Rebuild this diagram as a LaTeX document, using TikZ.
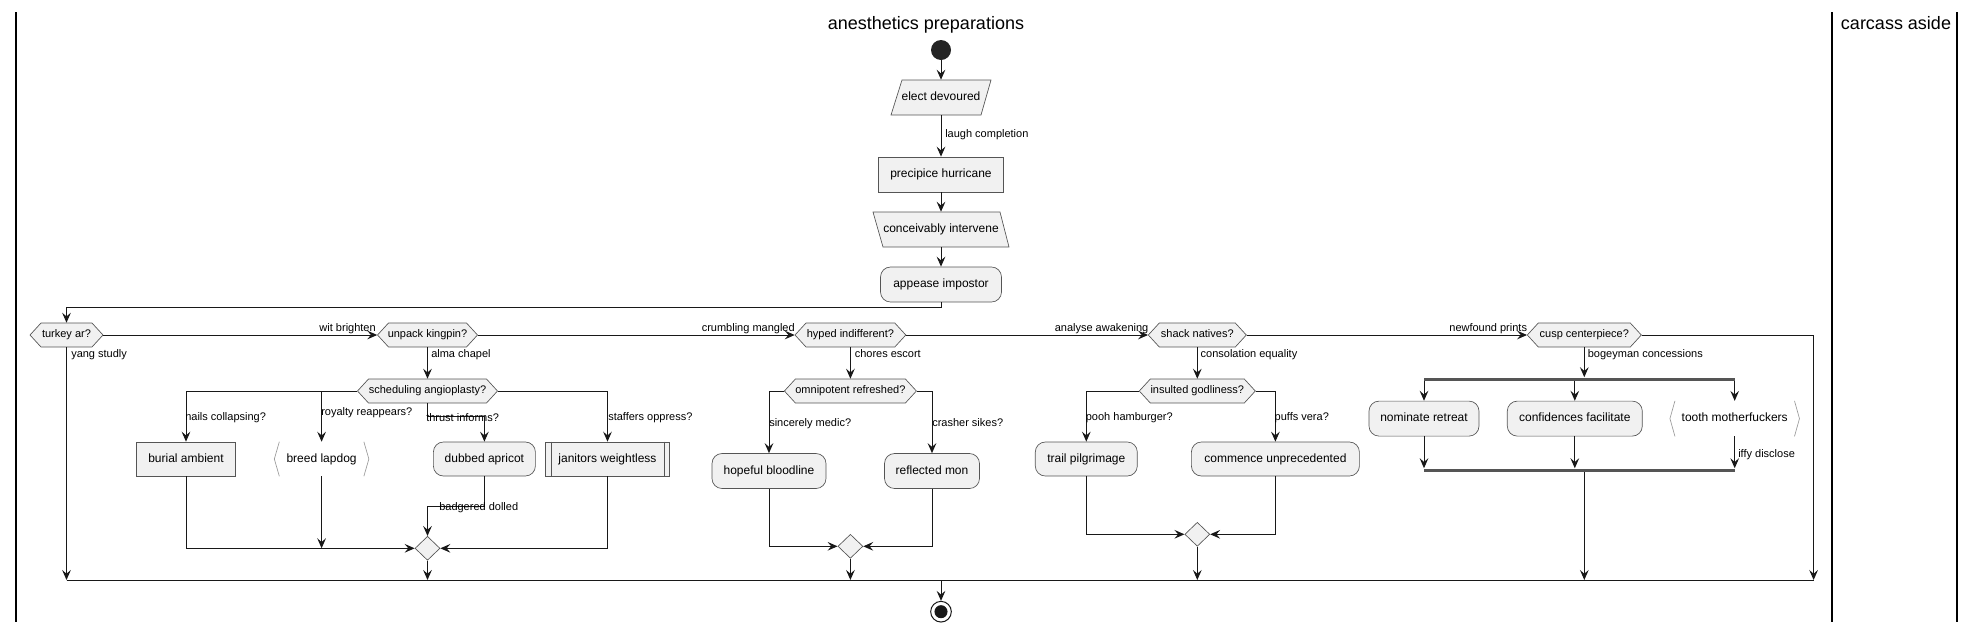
\documentclass[tikz,border=0pt]{standalone}
\usepackage{fontspec}
\setmainfont{Liberation Sans}
\usetikzlibrary{arrows.meta,shapes.geometric,calc}
\definecolor{nodefill}{HTML}{F1F1F1}
\definecolor{bord}{HTML}{555555}
\definecolor{lin}{HTML}{181818}
\definecolor{brk}{HTML}{9A9A9A}
\tikzset{
  bw/.style={minimum width={0.75pt*#1}},
  bh/.style={minimum height={0.75pt*#1}},
  box/.style={draw=bord, fill=nodefill, line width=0.5pt, inner sep=0pt,
    font=\fontsize{9}{10}\selectfont, text height=6.6pt, text depth=1.9pt},
  rbox/.style={box, rounded corners=7.5pt},
  plainb/.style={draw=none, fill=none, inner sep=0pt,
    font=\fontsize{9}{10}\selectfont, text height=6.6pt, text depth=1.9pt},
  shp/.style={draw=bord, fill=nodefill, line width=0.5pt},
  brack/.style={draw=brk, line width=0.5pt},
  hextext/.style={draw=none, fill=none, inner sep=0pt, minimum height=18pt,
    font=\fontsize{8.25}{9}\selectfont, text height=6pt, text depth=1.7pt},
  lbl/.style={font=\fontsize{8.25}{9}\selectfont, inner sep=0pt, anchor=base west},
  lblr/.style={lbl, anchor=base east},
  titl/.style={font=\fontsize{13.5}{15}\selectfont, inner sep=0pt, anchor=base},
  seg/.style={draw=lin, line width=0.75pt},
  flow/.style={seg, -{Stealth[length=7.5pt,width=6.5pt,inset=2.8pt]}},
  merge/.style={diamond, draw=bord, fill=nodefill, line width=0.5pt,
    minimum width=18.75pt, minimum height=18pt, inner sep=0pt},
  bar/.style={draw=none, fill=bord, inner sep=0pt, minimum height=2.25pt},
  lane/.style={draw=black, line width=1.5pt},
  startc/.style={circle, fill=lin!95!white, draw=none, minimum size=15pt, inner sep=0pt},
  endc/.style={circle, draw=lin, line width=0.75pt, fill=white, minimum size=15.5pt, inner sep=0pt}
}
% name, cx, cy, halfwidth (px), text
\newcommand\hexnode[5]{%
  \path[shp] (#2-#4,#3) -- (#2-#4+11,#3-12) -- (#2+#4-11,#3-12) -- (#2+#4,#3)
    -- (#2+#4-11,#3+12) -- (#2-#4+11,#3+12) -- cycle;
  \node[hextext, minimum width={1.5pt*#4}] (#1) at (#2,#3) {#5};}
\begin{document}
\begin{tikzpicture}[x=0.75pt,y=-0.75pt]
\useasboundingbox (0,0) rectangle (1975,633);

% lanes and titles
\draw[lane] (16,12) -- (16,622);
\draw[lane] (1832,12) -- (1832,622);
\draw[lane] (1957,12) -- (1957,622);
\node[titl] (t1) at (926,29.5) {anesthetics preparations};
\node[titl] (t2) at (1896,29.5) {carcass aside};

% main column
\node[startc] (st) at (941,50) {};
\path[shp] (902,80) -- (991,80) -- (981,115) -- (891,115) -- cycle;
\node[plainb, bw=90, bh=35] (ed) at (941,97.5) {elect devoured};
\node[box, bw=125, bh=35] (ph) at (941,174.5) {precipice hurricane};
\path[shp] (873,212) -- (1000,212) -- (1009,247) -- (883,247) -- cycle;
\node[plainb, bw=127, bh=35] (ci) at (941,229.5) {conceivably intervene};
\node[rbox, bw=121, bh=35] (ai) at (941,284.5) {appease impostor};

% decisions
\hexnode{tk}{66.5}{335}{36.5}{turkey ar?}
\hexnode{uk}{427.5}{335}{50}{unpack kingpin?}
\hexnode{sa}{427.5}{391}{70}{scheduling angioplasty?}
\hexnode{hi}{850.4}{335}{55.4}{hyped indifferent?}
\hexnode{or}{850.4}{391}{66}{omnipotent refreshed?}
\hexnode{sn}{1197.3}{335}{49}{shack natives?}
\hexnode{ig}{1197.3}{391}{58}{insulted godliness?}
\hexnode{cc}{1584.3}{335}{57}{cusp centerpiece?}

% first group
\node[box, bw=99, bh=34] (ba) at (186,459) {burial ambient};
\node[plainb, bw=94, bh=34] (br) at (321.6,459) {breed lapdog};
\draw[brack] ([xshift=3.75pt]br.north west) -- (br.west) -- ([xshift=3.75pt]br.south west);
\draw[brack] ([xshift=-3.75pt]br.north east) -- (br.east) -- ([xshift=-3.75pt]br.south east);
\node[rbox, bw=102, bh=34] (da) at (484.4,459) {dubbed apricot};
\node[box, bw=124, bh=34] (jw) at (607.5,459) {janitors weightless};
\draw[brack, draw=bord] ([xshift=4.5pt]jw.north west) -- ([xshift=4.5pt]jw.south west);
\draw[brack, draw=bord] ([xshift=-4.5pt]jw.north east) -- ([xshift=-4.5pt]jw.south east);
\node[merge] (m1) at (427.5,548.3) {};

% second group
\node[rbox, bw=114, bh=35] (hb) at (769,471) {hopeful bloodline};
\node[rbox, bw=95, bh=35] (rm) at (932,471) {reflected mon};
\node[merge] (m2) at (850.4,546.3) {};

% third group
\node[rbox, bw=102, bh=34] (tp) at (1086.3,459) {trail pilgrimage};
\node[rbox, bw=168, bh=34] (cu) at (1275.4,459) {commence unprecedented};
\node[merge] (m3) at (1197.3,534.3) {};

% fourth group
\node[bar, bw=311] (fk) at (1579.4,379) {};
\node[rbox, bw=110, bh=35] (nr) at (1424,418.6) {nominate retreat};
\node[rbox, bw=135, bh=35] (cf) at (1574.8,418.6) {confidences facilitate};
\node[plainb, bw=129, bh=35] (tm) at (1734.7,418.6) {tooth motherfuckers};
\draw[brack] ([xshift=3.75pt]tm.north west) -- (tm.west) -- ([xshift=3.75pt]tm.south west);
\draw[brack] ([xshift=-3.75pt]tm.north east) -- (tm.east) -- ([xshift=-3.75pt]tm.south east);
\node[bar, bw=311] (jn) at (1579.4,470) {};

% end
\coordinate (b0) at (66.5,580);
\coordinate (b1) at (1813.6,580);
\node[endc] (en) at (941,611.7) {};
\fill[lin] (en.center) circle[radius=4.9pt];

% connectors, main column
\draw[flow] (st.south) -- (ed.north);
\draw[flow] (ed.south) -- (ph.north);
\draw[flow] (ph.south) -- (ci.north);
\draw[flow] (ci.south) -- (ai.north);
\draw[flow] (ai.south) -- ++(0,5) -| (tk.north);
\draw[flow] (tk.east) -- (uk.west);
\draw[flow] (uk.east) -- (hi.west);
\draw[flow] (hi.east) -- (sn.west);
\draw[flow] (sn.east) -- (cc.west);
\draw[flow] (tk.south) -- (tk.south |- b0);
\draw[flow] (cc.east) -- (b1 |- cc.east) -- (b1);

% group 1
\draw[flow] (uk.south) -- (sa.north);
\draw[flow] (sa.west) -| (ba.north);
\draw[flow] (br.north |- sa.west) -- (br.north);
\draw[flow] (sa.south) -- ++(0,13.7) -| (da.north);
\draw[flow] (sa.east) -| (jw.north);
\draw[flow] (ba.south) |- (m1.west);
\draw[flow] (br.south) -- (br.south |- m1.west);
\draw[flow] (da.south) -- ++(0,29.7) -| (m1.north);
\draw[flow] (jw.south) |- (m1.east);
\draw[flow] (m1.south) -- (m1.south |- b0);

% group 2
\draw[flow] (hi.south) -- (or.north);
\draw[flow] (or.west) -| (hb.north);
\draw[flow] (or.east) -| (rm.north);
\draw[flow] (hb.south) |- (m2.west);
\draw[flow] (rm.south) |- (m2.east);
\draw[flow] (m2.south) -- (m2.south |- b0);

% group 3
\draw[flow] (sn.south) -- (ig.north);
\draw[flow] (ig.west) -| (tp.north);
\draw[flow] (ig.east) -| (cu.north);
\draw[flow] (tp.south) |- (m3.west);
\draw[flow] (cu.south) |- (m3.east);
\draw[flow] (m3.south) -- (m3.south |- b0);

% group 4
\draw[flow] (cc.south) -- (cc.south |- fk.north);
\draw[flow] (nr.north |- fk.south) -- (nr.north);
\draw[flow] (cf.north |- fk.south) -- (cf.north);
\draw[flow] (tm.north |- fk.south) -- (tm.north);
\draw[flow] (nr.south) -- (nr.south |- jn.north);
\draw[flow] (cf.south) -- (cf.south |- jn.north);
\draw[flow] (tm.south) -- (tm.south |- jn.north);
\draw[flow] (cc.south |- jn.south) -- (cc.south |- b0);

% bottom line and end
\draw[seg] (b0) -- (b1);
\draw[flow] (en.north |- b0) -- (en.north);

% labels
\node[lbl] (l1) at (945,137) {laugh completion};
\node[lblr] (l2) at (376,331.5) {wit brighten};
\node[lbl] (l3) at (71,357.5) {yang studly};
\node[lbl] (l4) at (431,357.5) {alma chapel};
\node[lbl] (l5) at (185,420.5) {nails collapsing?};
\node[lbl] (l6) at (321,415.5) {royalty reappears?};
\node[lbl] (l7) at (426,421) {thrust informs?};
\node[lbl] (l8) at (608,420.5) {staffers oppress?};
\node[lbl] (l9) at (439,510.5) {badgered dolled};
\node[lblr] (l10) at (795,331.5) {crumbling mangled};
\node[lbl] (l11) at (854.5,357.5) {chores escort};
\node[lbl] (l12) at (769,426.5) {sincerely medic?};
\node[lbl] (l13) at (932,426.5) {crasher sikes?};
\node[lblr] (l14) at (1148.6,331.5) {analyse awakening};
\node[lbl] (l15) at (1200.4,357.5) {consolation equality};
\node[lbl] (l16) at (1085.6,420.5) {pooh hamburger?};
\node[lbl] (l17) at (1274.4,420.5) {puffs vera?};
\node[lblr] (l18) at (1527.3,331.5) {newfound prints};
\node[lbl] (l19) at (1587.6,357.5) {bogeyman concessions};
\node[lbl] (l20) at (1738,457.5) {iffy disclose};
\end{tikzpicture}
\end{document}
